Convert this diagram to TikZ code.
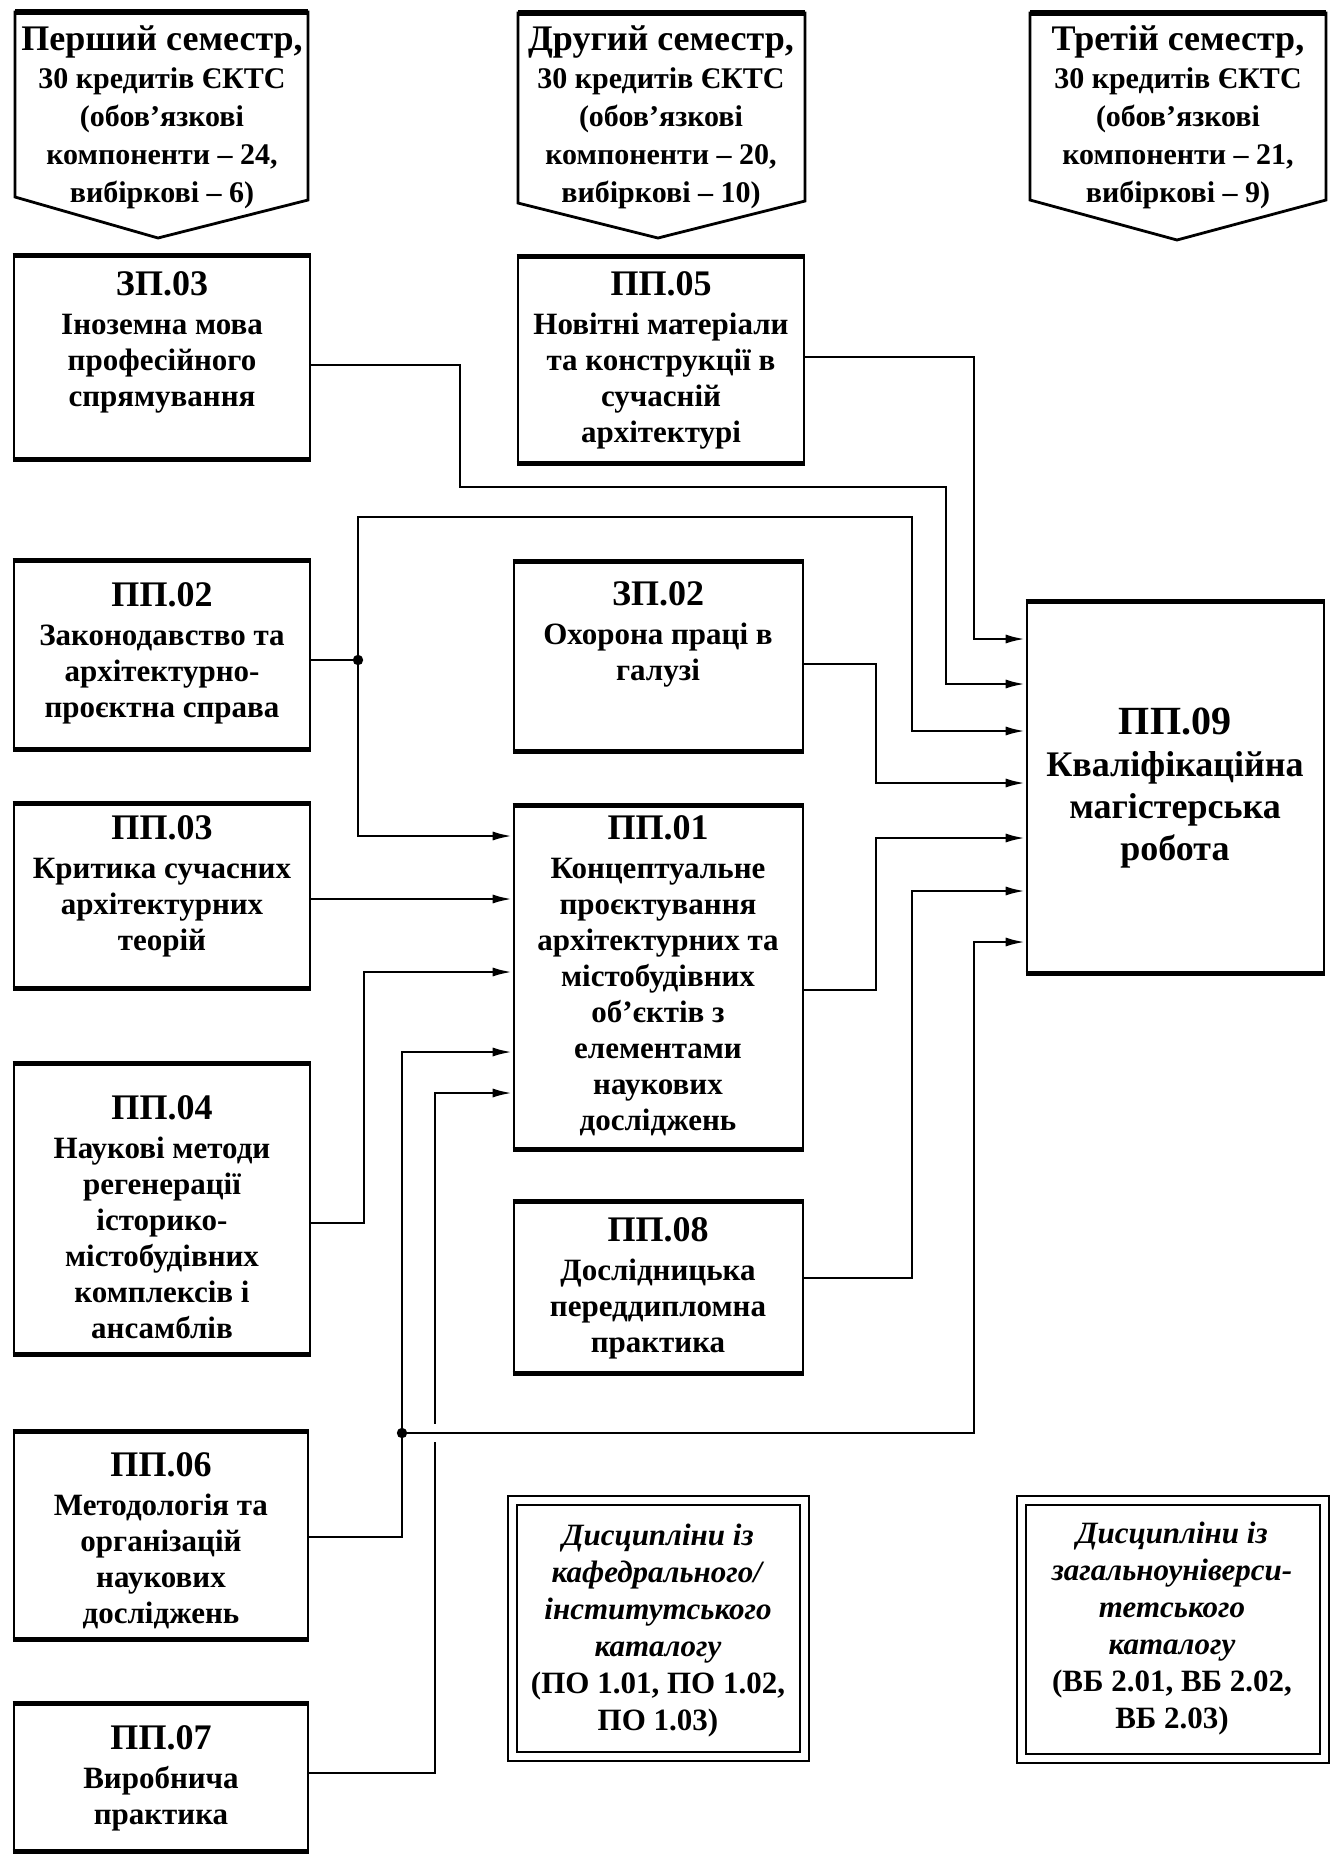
\documentclass[tikz,border=0pt]{standalone}
\usepackage{fontspec}
\setmainfont{Liberation Serif}
\usetikzlibrary{fit,arrows.meta}
\newcommand\ttl[1]{{\fontsize{18}{20}\selectfont #1}}
\newcommand\httl[1]{{\fontsize{18}{19}\selectfont #1}}
\tikzset{
  box/.style={draw, line width=1.3pt, inner sep=0pt,
    append after command={(\tikzlastnode.north west) edge[line width=2.6pt] (\tikzlastnode.north east)
      (\tikzlastnode.south west) edge[line width=2.6pt] (\tikzlastnode.south east)}},
  catbox/.style={draw, double, double distance=3.5pt, line width=1pt, inner sep=0pt},
  head/.style={draw, line width=1.4pt, line join=miter},
  txt/.style={align=center, inner sep=0pt, font=\bfseries\fontsize{15.5}{18}\selectfont},
  htxt/.style={align=center, inner sep=0pt, font=\bfseries\fontsize{15}{19}\selectfont},
  conn/.style={line width=1.4pt},
  arr/.style={conn, -{Latex[length=10pt,width=4.5pt]}},
  dot/.style={fill=black}
}
\begin{document}
\begin{tikzpicture}[x=0.5pt,y=-0.5pt]
\useasboundingbox (0,0) rectangle (1336,1859);

% semester headers
\draw[head] (15,12) -- (308,12) -- (308,200) -- (158,238) -- (15,197) -- cycle;
\draw[line width=2.6pt] (15,12) -- (308,12);
\node[htxt] (h1) at (162,117) {\httl{Перший семестр,}\\[0pt] 30 кредитів ЄКТС\\ (обов’язкові\\ компоненти – 24,\\ вибіркові – 6)};
\draw[head] (518,13) -- (805,13) -- (805,201) -- (658,238) -- (518,203) -- cycle;
\draw[line width=2.6pt] (518,13) -- (805,13);
\node[htxt] (h2) at (661,117) {\httl{Другий семестр,}\\[0pt] 30 кредитів ЄКТС\\ (обов’язкові\\ компоненти – 20,\\ вибіркові – 10)};
\draw[head] (1030,13) -- (1326,13) -- (1326,200) -- (1177,240) -- (1030,200) -- cycle;
\draw[line width=2.6pt] (1030,13) -- (1326,13);
\node[htxt] (h3) at (1178,117) {\httl{Третій семестр,}\\[0pt] 30 кредитів ЄКТС\\ (обов’язкові\\ компоненти – 21,\\ вибіркові – 9)};

% boxes
\node[box, fit={(14,257) (310,458)}] (zp03) {};
\node[box, fit={(518,258) (804,462)}] (pp05) {};
\node[box, fit={(14,562) (310,748)}] (pp02) {};
\node[box, fit={(514,563) (803,750)}] (zp02) {};
\node[box, fit={(1027,603) (1324,972)}] (pp09) {};
\node[box, fit={(14,805) (310,987)}] (pp03) {};
\node[box, fit={(514,807) (803,1148)}] (pp01) {};
\node[box, fit={(14,1065) (310,1353)}] (pp04) {};
\node[box, fit={(514,1203) (803,1372)}] (pp08) {};
\node[box, fit={(14,1433) (308,1638)}] (pp06) {};
\node[box, fit={(14,1705) (308,1850)}] (pp07) {};
\node[catbox, fit={(512,1500) (804,1756)}] (cat1) {};
\node[catbox, fit={(1021,1500) (1324,1758)}] (cat2) {};

% texts
\node[txt] (zp03t) at (162,342) {\ttl{ЗП.03}\\[1.5pt] Іноземна мова\\ професійного\\ спрямування};
\node[txt] (pp05t) at (661,360) {\ttl{ПП.05}\\[1.5pt] Новітні матеріали\\ та конструкції в\\ сучасній\\ архітектурі};
\node[txt] (pp02t) at (162,653) {\ttl{ПП.02}\\[1.5pt] Законодавство та\\ архітектурно-\\ проєктна справа};
\node[txt] (zp02t) at (658,634) {\ttl{ЗП.02}\\[1.5pt] Охорона праці в\\ галузі};
\node[txt] (pp03t) at (162,886) {\ttl{ПП.03}\\[1.5pt] Критика сучасних\\ архітектурних\\ теорій};
\node[txt] (pp01t) at (658,976) {\ttl{ПП.01}\\[1.5pt] Концептуальне\\ проєктування\\ архітектурних та\\ містобудівних\\ об’єктів з\\ елементами\\ наукових\\ досліджень};
\node[txt] (pp04t) at (162,1217) {\ttl{ПП.04}\\[1.5pt] Наукові методи\\ регенерації\\ історико-\\ містобудівних\\ комплексів і\\ ансамблів};
\node[txt] (pp08t) at (658,1288) {\ttl{ПП.08}\\[1.5pt] Дослідницька\\ переддипломна\\ практика};
\node[txt] (pp06t) at (161,1541) {\ttl{ПП.06}\\[1.5pt] Методологія та\\ організацій\\ наукових\\ досліджень};
\node[txt] (pp07t) at (161,1778) {\ttl{ПП.07}\\[1.5pt] Виробнича\\ практика};
\node[txt, font=\bfseries\fontsize{18}{21}\selectfont] (pp09t) at (1175,788) {{\fontsize{20}{21}\selectfont ПП.09}\\ Кваліфікаційна\\ магістерська\\ робота};
\node[txt, font=\bfseries\fontsize{15.5}{18.5}\selectfont] (cat1t) at (658,1631) {\textit{Дисципліни із}\\ \textit{кафедрального/}\\ \textit{інститутського}\\ \textit{каталогу}\\ (ПО 1.01, ПО 1.02,\\ ПО 1.03)};
\node[txt, font=\bfseries\fontsize{15.5}{18.5}\selectfont] (cat2t) at (1172,1629) {\textit{Дисципліни із}\\ \textit{загальноуніверси-}\\ \textit{тетського}\\ \textit{каталогу}\\ (ВБ 2.01, ВБ 2.02,\\ ВБ 2.03)};

% junctions
\coordinate (j1) at (358,660);
\coordinate (j2) at (402,1433);

% connectors
\draw[arr] (zp03.east |- 0,365) -- (460,365) -- (460,487) -- (946,487) -- (946,684) -- (pp09.west |- 0,684);
\draw[arr] (pp05.east |- 0,357) -- (974,357) -- (974,639) -- (pp09.west |- 0,639);
\draw[conn] (pp02.east |- j1) -- (j1);
\draw[arr] (j1) -- (358,517) -- (912,517) -- (912,731) -- (pp09.west |- 0,731);
\draw[arr] (j1) -- (358,836) -- (pp01.west |- 0,836);
\draw[arr] (zp02.east |- 0,664) -- (876,664) -- (876,783) -- (pp09.west |- 0,783);
\draw[arr] (pp01.east |- 0,990) -- (876,990) -- (876,838) -- (pp09.west |- 0,838);
\draw[arr] (pp08.east |- 0,1278) -- (912,1278) -- (912,891) -- (pp09.west |- 0,891);
\draw[arr] (pp03.east |- 0,899) -- (pp01.west |- 0,899);
\draw[arr] (pp04.east |- 0,1223) -- (364,1223) -- (364,972) -- (pp01.west |- 0,972);
\draw[arr] (pp07.east |- 0,1773) -- (435,1773) -- (435,1093) -- (pp01.west |- 0,1093);
\draw[conn] (pp06.east |- 0,1537) -- (402,1537) -- (j2);
\draw[arr] (j2) -- (402,1052) -- (pp01.west |- 0,1052);
\draw[arr, preaction={draw=white, line width=9pt, -, shorten >=12pt, shorten <=8pt}] (j2) -- (974,1433) -- (974,942) -- (pp09.west |- 0,942);
\draw[conn] (j2) -- (974,1433);

\fill[dot] (j1) circle (2.6pt);
\fill[dot] (j2) circle (2.6pt);
\end{tikzpicture}
\end{document}
